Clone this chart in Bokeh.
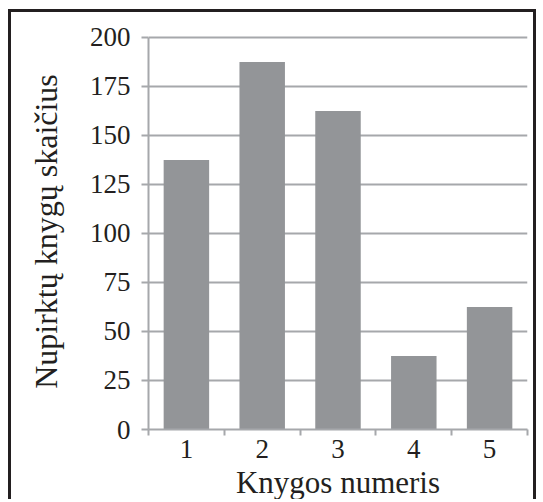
from bokeh.plotting import figure
from bokeh.models import Range1d, FixedTicker
from bokeh.embed import file_html
from bokeh.resources import INLINE

books = [1, 2, 3, 4, 5]
book_labels = ["1", "2", "3", "4", "5"]
counts = [137.5, 187.5, 162.5, 37.5, 62.5]
y_ticks = [0, 25, 50, 75, 100, 125, 150, 175, 200]

FONT = "Liberation Serif"
GRAY = "#a6a8ab"
BAR = "#939598"
INK = "#231f20"

p = figure(width=528, height=490, output_backend="svg", toolbar_location=None,
           x_range=Range1d(0.5, 5.5), y_range=Range1d(0, 202),
           min_border_left=137, min_border_right=12, min_border_top=21, min_border_bottom=72,
           margin=(9, 0, 0, 8))
p.styles = {"border-top": "3px solid #231f20", "border-left": "3px solid #231f20",
            "border-right": "3px solid #231f20"}
p.outline_line_color = None
p.background_fill_color = "white"
p.border_fill_color = "white"

p.vbar(x=books, top=counts, width=0.6, fill_color=BAR, line_color=None)

xa = p.xaxis[0]
xa.ticker = FixedTicker(ticks=books, minor_ticks=[b - 0.5 for b in books] + [books[-1] + 0.5])
xa.major_label_overrides = {b: l for b, l in zip(books, book_labels)}
xa.major_tick_line_color = None
xa.major_tick_out = 0
xa.major_tick_in = 0
xa.minor_tick_line_color = GRAY
xa.minor_tick_line_width = 2
xa.minor_tick_out = 6
xa.minor_tick_in = 0
xa.axis_line_color = GRAY
xa.axis_line_width = 2
xa.major_label_text_font = FONT
xa.major_label_text_font_size = "27px"
xa.major_label_text_color = INK
xa.major_label_standoff = 4
xa.axis_label = "Knygos numeris"
xa.axis_label_text_font = FONT
xa.axis_label_text_font_size = "31px"
xa.axis_label_text_font_style = "normal"
xa.axis_label_text_color = INK
xa.axis_label_standoff = 4

ya = p.yaxis[0]
ya.ticker = FixedTicker(ticks=y_ticks)
ya.bounds = (0, 200)
ya.major_tick_line_color = GRAY
ya.major_tick_line_width = 2
ya.major_tick_out = 7
ya.major_tick_in = 0
ya.minor_tick_line_color = None
ya.axis_line_color = GRAY
ya.axis_line_width = 2
ya.major_label_text_font = FONT
ya.major_label_text_font_size = "27px"
ya.major_label_text_color = INK
ya.major_label_standoff = 11
ya.axis_label = "Nupirktų knygų skaičius"
ya.axis_label_text_font = FONT
ya.axis_label_text_font_size = "32px"
ya.axis_label_text_font_style = "normal"
ya.axis_label_text_color = INK
ya.axis_label_standoff = 23

p.xgrid.grid_line_color = None
p.ygrid.ticker = FixedTicker(ticks=y_ticks)
p.ygrid.grid_line_color = GRAY
p.ygrid.grid_line_width = 2

open("out.html", "w").write(file_html(p, INLINE))
